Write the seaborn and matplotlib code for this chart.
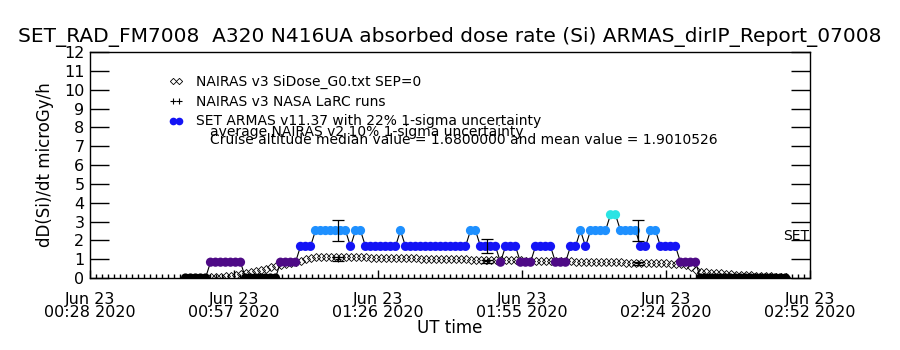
import pandas as pd
import matplotlib
matplotlib.use("Agg")
import matplotlib.pyplot as plt
import matplotlib.dates as mdates
from matplotlib.lines import Line2D
import seaborn as sns

FONT = "DejaVu Sans"

title = "SET_RAD_FM7008  A320 N416UA absorbed dose rate (Si) ARMAS_dirIP_Report_07008"
y_label = "dD(Si)/dt microGy/h"
x_label = "UT time"

# one-minute samples starting 00:48 UT
t_start = "2020-06-23 00:48:00"
n_samples = 121

armas = [
    0, 0, 0, 0, 0,
    0.84, 0.84, 0.84, 0.84, 0.84, 0.84, 0.84,
    0, 0, 0, 0, 0, 0, 0,
    0.84, 0.84, 0.84, 0.84,
    1.68, 1.68, 1.68,
    2.52, 2.52, 2.52, 2.52, 2.52, 2.52, 2.52,
    1.68,
    2.52, 2.52,
    1.68, 1.68, 1.68, 1.68, 1.68, 1.68, 1.68,
    2.52,
    1.68, 1.68, 1.68, 1.68, 1.68, 1.68, 1.68, 1.68, 1.68, 1.68, 1.68, 1.68, 1.68,
    2.52, 2.52,
    1.68, 1.68, 1.68, 1.68,
    0.84,
    1.68, 1.68, 1.68,
    0.84, 0.84, 0.84,
    1.68, 1.68, 1.68, 1.68,
    0.84, 0.84, 0.84,
    1.68, 1.68,
    2.52,
    1.68,
    2.52, 2.52, 2.52, 2.52,
    3.36, 3.36,
    2.52, 2.52, 2.52, 2.52,
    1.68, 1.68,
    2.52, 2.52,
    1.68, 1.68, 1.68, 1.68,
    0.84, 0.84, 0.84, 0.84,
    0, 0, 0, 0, 0, 0, 0, 0, 0, 0, 0, 0, 0, 0, 0, 0, 0, 0,
]

nairas = [
    0.01, 0.01, 0.02, 0.02, 0.02,
    0.03, 0.05, 0.07, 0.09, 0.12, 0.15, 0.20,
    0.27, 0.33, 0.38, 0.45, 0.50, 0.57, 0.63,
    0.70, 0.75, 0.80, 0.84,
    0.92, 1.02, 1.08,
    1.10, 1.11, 1.12, 1.12, 1.12, 1.11, 1.11,
    1.10, 1.10, 1.09, 1.09, 1.08, 1.08, 1.07, 1.07, 1.06, 1.06,
    1.05, 1.05, 1.04, 1.04, 1.03, 1.03, 1.02, 1.02, 1.01, 1.01, 1.00, 1.00, 0.99, 0.99,
    0.98, 0.98, 0.97, 0.97, 0.96, 0.96, 0.95, 0.95, 0.94, 0.93, 0.93, 0.92, 0.92, 0.91,
    0.91, 0.90, 0.90, 0.89, 0.89, 0.88, 0.88, 0.87, 0.87, 0.86, 0.86, 0.85, 0.85, 0.84,
    0.84, 0.83, 0.83, 0.82, 0.82, 0.81, 0.81, 0.80, 0.80, 0.79, 0.79, 0.78, 0.77, 0.76,
    0.74, 0.70, 0.60, 0.45,
    0.33, 0.30, 0.28, 0.26, 0.24, 0.22, 0.20, 0.18, 0.17, 0.15, 0.14, 0.12, 0.11, 0.10,
    0.08, 0.07, 0.06, 0.05,
]

# NASA LaRC comparison runs
larc_times = ["2020-06-23 01:18:30", "2020-06-23 01:48:20", "2020-06-23 02:18:30"]
larc_nairas = [1.00, 0.88, 0.78]
larc_armas = [2.52, 1.68, 2.52]
armas_sigma = 0.22
nairas_sigma = 0.10

level_colors = {0: "black", 0.84: "#4e0a86", 1.68: "#1414f5", 2.52: "#1e90ff", 3.36: "#2ae4e4"}

legend_labels = [
    "NAIRAS v3 SiDose_G0.txt SEP=0",
    "NAIRAS v3 NASA LaRC runs",
    "SET ARMAS v11.37 with 22% 1-sigma uncertainty",
]
note_lines = [
    "average NAIRAS v2 10% 1-sigma uncertainty",
    "Cruise altitude median value = 1.6800000 and mean value = 1.9010526",
]

x_min = pd.Timestamp("2020-06-23 00:28:54")
x_max = pd.Timestamp("2020-06-23 02:52:54")

df = pd.DataFrame({
    "time": pd.date_range(t_start, periods=n_samples, freq="1min"),
    "armas": armas,
    "nairas": nairas,
})
larc = pd.DataFrame({"time": pd.to_datetime(larc_times), "nairas": larc_nairas, "armas": larc_armas})

sns.set_style("white")
plt.rcParams["font.family"] = [FONT]
plt.rcParams["text.color"] = "black"
plt.rcParams["axes.labelcolor"] = "black"
plt.rcParams["xtick.color"] = "black"
plt.rcParams["ytick.color"] = "black"

fig = plt.figure(figsize=(9, 3.5), dpi=100)
ax = fig.add_axes([0.1, 0.2057, 0.8, 0.6457])

# NAIRAS model curve
ax.plot(df["time"], df["nairas"], ls="none", marker="D", ms=3.6, mfc="none",
        mec="black", mew=0.6, zorder=3)

# ARMAS measurements: black connecting line, dots coloured by level
sns.lineplot(data=df, x="time", y="armas", color="black", lw=0.8,
             estimator=None, sort=False, ax=ax, zorder=2)
df["level"] = df["armas"]
sns.scatterplot(data=df, x="time", y="armas", hue="level", palette=level_colors,
                s=44, linewidth=0, legend=False, ax=ax, zorder=4)

# uncertainty bars
ax.errorbar(larc["time"], larc["armas"], yerr=larc["armas"] * armas_sigma,
            fmt="none", ecolor="black", elinewidth=0.9, capsize=4, capthick=0.9, zorder=5)
ax.errorbar(larc["time"], larc["nairas"], yerr=larc["nairas"] * nairas_sigma,
            fmt="none", ecolor="black", elinewidth=0.9, capsize=4, capthick=0.9, zorder=5)
ax.plot(larc["time"], larc["nairas"], ls="none", marker="+", ms=5, color="black", mew=0.8, zorder=5)

ax.set_xlim(x_min, x_max)
ax.set_ylim(0, 12)
ax.set_yticks(range(0, 13))

ax.xaxis.set_major_locator(matplotlib.ticker.FixedLocator(
    mdates.date2num(pd.date_range(x_min, x_max, periods=6))))
ax.xaxis.set_minor_locator(matplotlib.ticker.FixedLocator(
    mdates.date2num(pd.date_range(x_min, x_max, freq="72s"))))
ax.xaxis.set_major_formatter(mdates.DateFormatter("%b %d\n%H:%M %Y"))

ax.tick_params(axis="y", which="major", direction="in", length=14, width=1,
               left=True, right=True, labelsize=11.5, pad=4)
ax.tick_params(axis="x", which="major", direction="in", length=6, width=1,
               bottom=True, top=False, labelsize=11.5, pad=10)
ax.tick_params(axis="x", which="minor", direction="in", length=3, width=1,
               bottom=True, top=False)
for lab in ax.get_xticklabels():
    lab.set_linespacing(0.85)

for sp in ax.spines.values():
    sp.set_color("black")
    sp.set_linewidth(1)

ax.set_xlabel(x_label, fontsize=12, labelpad=-1)
ax.set_ylabel(y_label, fontsize=12, labelpad=7)
ax.set_title(title, fontsize=14.5, pad=7, color="black")

handles = [
    Line2D([], [], ls="none", marker="D", ms=3.2, mfc="none", mec="black", mew=0.6),
    Line2D([], [], ls="none", marker="+", ms=5, color="black", mew=0.8),
    Line2D([], [], ls="none", marker="o", ms=5.5, color="#1414f5", mew=0),
]
ax.legend(handles, legend_labels, loc="upper left", bbox_to_anchor=(0.11, 0.90),
          frameon=False, fontsize=10, numpoints=2, handlelength=1.0,
          handletextpad=0.9, labelspacing=0.42, borderpad=0, borderaxespad=0)

ax.text(0.1667, 0.645, note_lines[0], transform=ax.transAxes, fontsize=10, va="center")
ax.text(0.1667, 0.610, note_lines[1], transform=ax.transAxes, fontsize=10, va="center")
ax.text(0.9625, 0.185, "SET", transform=ax.transAxes, fontsize=10, va="center")

fig.savefig("out.png", dpi=100)
